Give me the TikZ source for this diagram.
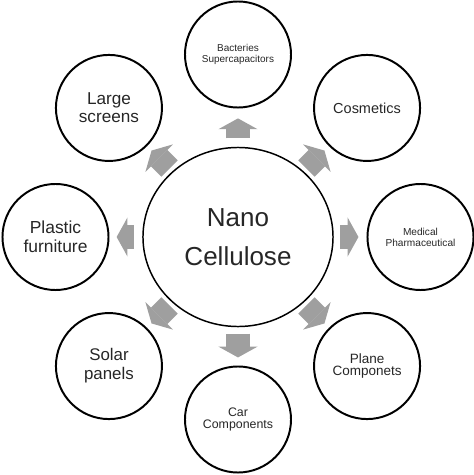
\documentclass[tikz,border=0pt]{standalone}
\usepackage{fontspec}
\setmainfont{Liberation Sans}
\usetikzlibrary{arrows.meta,shapes.geometric,calc}

\begin{document}
\begin{tikzpicture}[x=0.025cm,y=0.025cm,
        use/.style={circle, draw=black, line width=1.4pt, minimum size=2.65cm, inner sep=0pt, align=center, text=black!85},
        fat/.style={draw=gray!75, line width=0.575cm, -{Triangle[width=0.975cm, length=0.27cm, line width=0pt]}}]
        \useasboundingbox (-238,-238) rectangle (236,237);

        % hub
        \node[ellipse, draw=black, line width=1.05pt, minimum width=4.75cm, minimum height=4.475cm, inner sep=0pt,
              align=center, text=black!85, font=\fontsize{18.5}{27.7}\selectfont] (nano) at (0,0) {Nano\\Cellulose};

        % uses around it
        \node[use, font=\fontsize{7.1}{7.8}\selectfont]  (bact)    at (90:182.5)   {Bacteries\\Supercapacitors};
        \node[use, font=\fontsize{10.3}{12}\selectfont]  (cosm)    at (45:182.5)   {Cosmetics};
        \node[use, font=\fontsize{7.2}{7.8}\selectfont]  (med)     at (0:182.5)    {Medical\\Pharmaceutical};
        \node[use, font=\fontsize{9.6}{8.6}\selectfont]  (plane)   at (-45:182.5)  {Plane\\Componets};
        \node[use, font=\fontsize{8.8}{8.6}\selectfont]  (car)     at (-90:182.5)  {Car\\Components};
        \node[use, font=\fontsize{12}{13.5}\selectfont]  (solar)   at (-135:182.5) {Solar\\panels};
        \node[use, font=\fontsize{12.4}{13.5}\selectfont] (plastic) at (180:182.5)  {Plastic\\furniture};
        \node[use, font=\fontsize{12.2}{13}\selectfont]  (screens) at (135:182.5)  {Large\\screens};

        % block arrows
        \draw[fat] ($(nano)!0.54!(bact)$)    -- ($(nano)!0.65!(bact)$);
        \draw[fat] ($(nano)!0.53!(cosm)$)    -- ($(nano)!0.67!(cosm)$);
        \draw[fat] ($(nano)!0.56!(med)$)     -- ($(nano)!0.66!(med)$);
        \draw[fat] ($(nano)!0.53!(plane)$)   -- ($(nano)!0.67!(plane)$);
        \draw[fat] ($(nano)!0.53!(car)$)     -- ($(nano)!0.66!(car)$);
        \draw[fat] ($(nano)!0.53!(solar)$)   -- ($(nano)!0.67!(solar)$);
        \draw[fat] ($(nano)!0.57!(plastic)$) -- ($(nano)!0.665!(plastic)$);
        \draw[fat] ($(nano)!0.53!(screens)$) -- ($(nano)!0.67!(screens)$);
\end{tikzpicture}
\end{document}
